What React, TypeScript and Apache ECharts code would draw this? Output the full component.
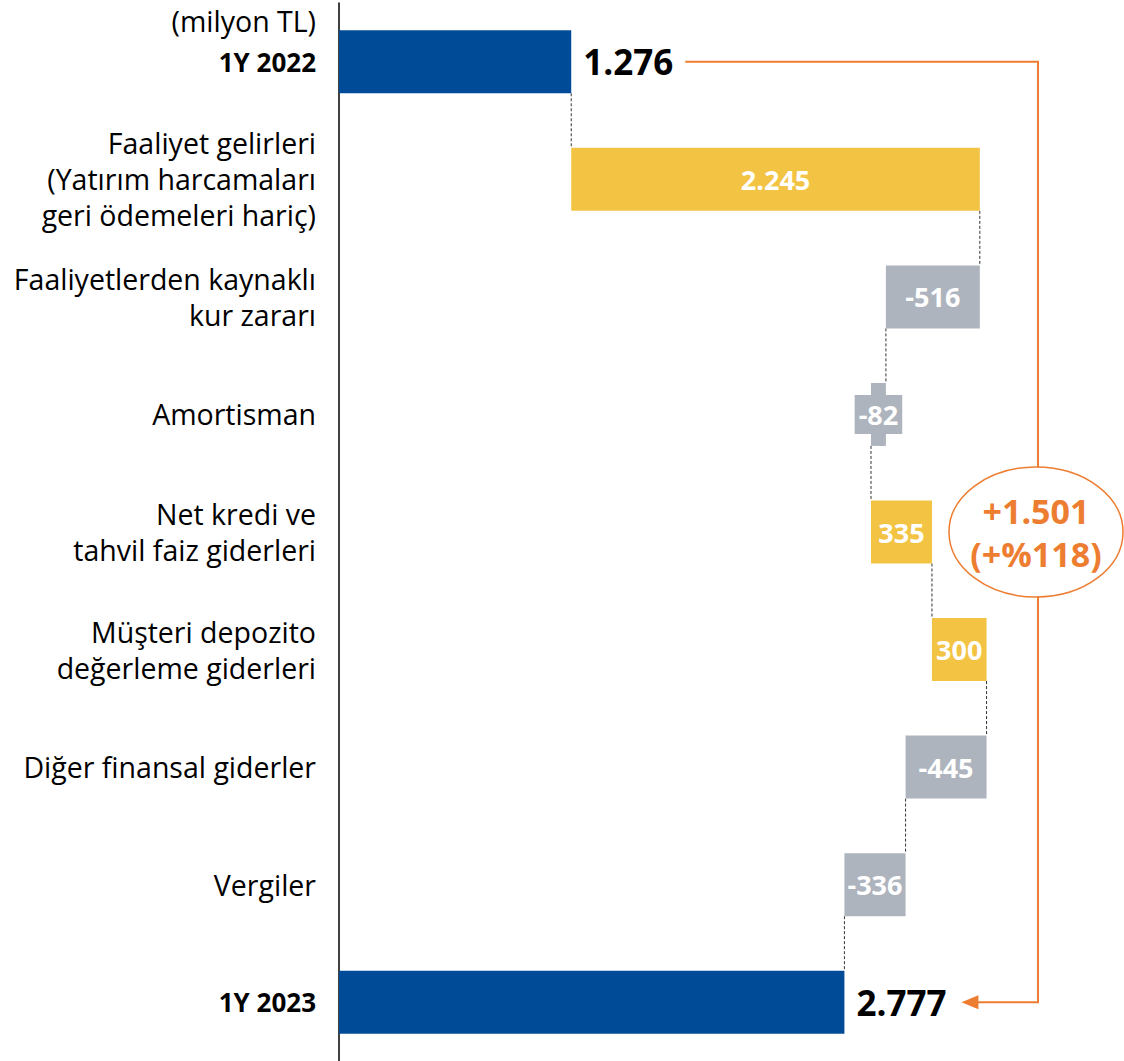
import React, { useEffect, useRef } from "react";
import * as echarts from "echarts";

const categories = [
  "1Y 2022",
  "Faaliyet gelirleri\n(Yatırım harcamaları\ngeri ödemeleri hariç)",
  "Faaliyetlerden kaynaklı\nkur zararı",
  "Amortisman",
  "Net kredi ve\ntahvil faiz giderleri",
  "Müşteri depozito\ndeğerleme giderleri",
  "Diğer finansal giderler",
  "Vergiler",
  "1Y 2023",
];
const values = [1276, 2245, -516, -82, 335, 300, -445, -336, 2777];
const kinds = ["total", "step", "step", "step", "step", "step", "step", "step", "total"];
const unitLabel = "(milyon TL)";

const BLUE = "#004B97";
const YELLOW = "#F3C343";
const GREY = "#AEB4BE";
const ORANGE = "#ED7D31";
const FONT = "'Open Sans', 'Noto Sans', sans-serif";

function fmt(v: number): string {
  const s = Math.abs(v).toString().replace(/\B(?=(\d{3})+(?!\d))/g, ".");
  return (v < 0 ? "-" : "") + s;
}

export default function App() {
  const ref = useRef<HTMLDivElement>(null);
  useEffect(() => {
    if (!ref.current) return;
    const chart = echarts.init(ref.current, null, { renderer: "svg" });

    let cum = 0;
    const bases: number[] = [];
    const lens: any[] = [];
    const ends: number[] = [];
    values.forEach((v, i) => {
      if (kinds[i] === "total") {
        bases.push(0);
        cum = v;
        lens.push({
          value: v,
          itemStyle: { color: BLUE },
          label: {
            show: true,
            position: "right",
            distance: 12,
            color: "#000",
            fontSize: 35,
            fontWeight: "bold",
            fontFamily: FONT,
            formatter: fmt(v),
          },
        });
      } else {
        const before = cum;
        cum = cum + v;
        bases.push(Math.min(before, cum));
        const item: any = {
          value: Math.abs(v),
          itemStyle: { color: v >= 0 ? YELLOW : GREY },
          label: {
            show: true,
            position: "inside",
            color: "#fff",
            fontSize: 27,
            fontWeight: "bold",
            fontFamily: FONT,
            formatter: fmt(v),
          },
        };
        if (Math.abs(v) < 150) {
          item.label.backgroundColor = GREY;
          item.label.padding = [4, 4];
          item.label.lineHeight = 31;
        }
        lens.push(item);
      }
      ends.push(cum);
    });
    const connectors = ends.slice(0, -1).map((x, i) => [x, i]);

    const BAR_H = 63;

    chart.setOption({
      animation: false,
      grid: { left: 339, top: 3, width: 728, height: 1060 },
      xAxis: { type: "value", min: 0, max: 4000, show: false },
      yAxis: {
        type: "category",
        inverse: true,
        data: categories.map((c, i) => ({
          value: c,
          textStyle: kinds[i] === "total" ? { fontWeight: "bold", fontSize: 26 } : {},
        })),
        axisLine: { show: true, lineStyle: { color: "#000", width: 1.5 } },
        axisTick: { show: false },
        axisLabel: {
          margin: 23,
          fontSize: 28.5,
          lineHeight: 36,
          color: "#000",
          fontFamily: FONT,
          align: "right",
        },
      },
      series: [
        {
          type: "bar",
          stack: "w",
          data: bases,
          itemStyle: { color: "transparent" },
          barWidth: BAR_H,
          silent: true,
        },
        {
          type: "bar",
          stack: "w",
          data: lens,
          barWidth: BAR_H,
        },
        {
          type: "custom",
          data: connectors,
          encode: { x: 0, y: 1 },
          renderItem: (params: any, api: any) => {
            const x = api.value(0);
            const i = api.value(1);
            const p1 = api.coord([x, i]);
            const p2 = api.coord([x, i + 1]);
            return {
              type: "line",
              shape: { x1: p1[0], y1: p1[1] + BAR_H / 2, x2: p2[0], y2: p2[1] - BAR_H / 2 },
              style: { stroke: "#333", lineWidth: 1, lineDash: [3, 2] },
            };
          },
          z: 1,
        },
      ],
    });

    const n = values.length;
    const start = values[0];
    const end = values[n - 1];
    const p0 = chart.convertToPixel({ gridIndex: 0 }, [start, 0]) as number[];
    const pN = chart.convertToPixel({ gridIndex: 0 }, [end, n - 1]) as number[];
    const pMid = chart.convertToPixel({ gridIndex: 0 }, [0, 4]) as number[];
    const bx = 1038;
    const sx = p0[0] + 114;
    const tip = pN[0] + 117;
    const diff = end - start;
    const pct = Math.round((diff / start) * 100);

    chart.setOption({
      graphic: [
        {
          type: "text",
          x: 316,
          y: 21,
          style: {
            text: unitLabel,
            fontSize: 28.5,
            fontFamily: FONT,
            fill: "#000",
            textAlign: "right",
            textVerticalAlign: "middle",
          },
        },
        {
          type: "polyline",
          shape: { points: [[sx, p0[1]], [bx, p0[1]], [bx, pN[1]], [tip + 12, pN[1]]] },
          style: { stroke: ORANGE, lineWidth: 2, fill: "none" },
          z: 10,
        },
        {
          type: "polygon",
          shape: { points: [[tip, pN[1]], [tip + 17, pN[1] - 7], [tip + 17, pN[1] + 7]] },
          style: { fill: ORANGE },
          z: 10,
        },
        {
          type: "ellipse",
          shape: { cx: 1036, cy: pMid[1], rx: 87, ry: 65 },
          style: { fill: "#fff", stroke: ORANGE, lineWidth: 1.5 },
          z: 11,
        },
        {
          type: "text",
          x: 1036,
          y: pMid[1],
          style: {
            text: "+" + fmt(diff) + "\n(+%" + pct + ")",
            fontSize: 34,
            fontWeight: "bold",
            lineHeight: 43,
            fontFamily: FONT,
            fill: ORANGE,
            textAlign: "center",
            textVerticalAlign: "middle",
          },
          z: 12,
        },
      ],
    });

    return () => chart.dispose();
  }, []);
  return (
    <div
      ref={ref}
      style={{ position: "absolute", left: 0, top: 0, width: 1124, height: 1061 }}
    />
  );
}
